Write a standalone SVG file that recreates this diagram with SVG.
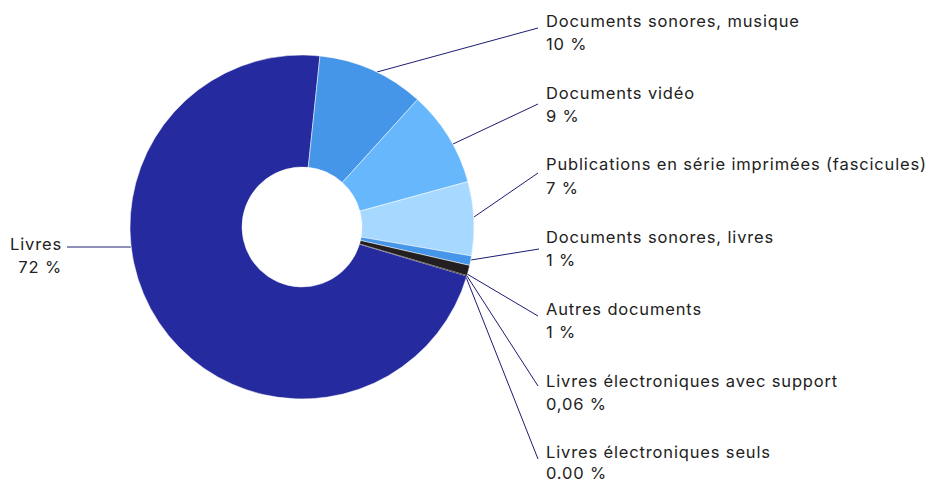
<svg xmlns="http://www.w3.org/2000/svg" width="926" height="483" viewBox="0 0 926 483">
<style>
.lbl{font-family:Inter,"Liberation Sans",sans-serif;font-size:16.5px;letter-spacing:0.85px;fill:#222222}
.end{text-anchor:end}
.sl{stroke:#ffffff;stroke-width:0.5}
.ld{stroke:#1c1c72;stroke-width:1;fill:none}
</style>
<rect width="926" height="483" fill="#ffffff"/>
<g id="connectors">
<line class="ld" x1="377" y1="72" x2="538" y2="28"/>
<line class="ld" x1="453" y1="144" x2="538" y2="104"/>
<line class="ld" x1="474" y1="217" x2="538" y2="173"/>
<line class="ld" x1="471" y1="260" x2="539" y2="249"/>
<line class="ld" x1="467" y1="274" x2="538" y2="316"/>
<line class="ld" x1="467" y1="276" x2="538" y2="386"/>
<line class="ld" x1="466" y1="277" x2="538" y2="459"/>
<line class="ld" x1="67" y1="247" x2="131" y2="247"/>
</g>
<g id="livres">
<path class="sl" fill="#252a9e" d="M466.83,276.14 A172,172 0 1 1 319.98,55.94 L308.27,167.33 A60,60 0 1 0 359.50,244.14 Z"/>
<text class="lbl end" x="62" y="250">Livres</text>
<text class="lbl end" x="62" y="273">72 %</text>
</g>
<g id="sonores-musique">
<path class="sl" fill="#4595e8" d="M319.98,55.94 A172,172 0 0 1 417.52,99.57 L342.30,182.55 A60,60 0 0 0 308.27,167.33 Z"/>
<text class="lbl" x="546" y="27">Documents sonores, musique</text>
<text class="lbl" x="546" y="50">10 %</text>
</g>
<g id="video">
<path class="sl" fill="#66b7fc" d="M417.52,99.57 A172,172 0 0 1 467.90,181.61 L359.87,211.17 A60,60 0 0 0 342.30,182.55 Z"/>
<text class="lbl" x="546" y="99">Documents vidéo</text>
<text class="lbl" x="546" y="122">9 %</text>
</g>
<g id="publications">
<path class="sl" fill="#a7d8ff" d="M467.90,181.61 A172,172 0 0 1 471.54,255.98 L361.14,237.11 A60,60 0 0 0 359.87,211.17 Z"/>
<text class="lbl" x="546" y="170">Publications en série imprimées (fascicules)</text>
<text class="lbl" x="546" y="194">7 %</text>
</g>
<g id="sonores-livres">
<path class="sl" fill="#4595e8" d="M471.54,255.98 A172,172 0 0 1 469.66,265.40 L360.49,240.40 A60,60 0 0 0 361.14,237.11 Z"/>
<text class="lbl" x="546" y="243">Documents sonores, livres</text>
<text class="lbl" x="546" y="266">1 %</text>
</g>
<g id="autres">
<path class="sl" fill="#231f20" d="M469.66,265.40 A172,172 0 0 1 467.00,275.56 L359.56,243.94 A60,60 0 0 0 360.49,240.40 Z"/>
<text class="lbl" x="546" y="315">Autres documents</text>
<text class="lbl" x="546" y="338">1 %</text>
</g>
<g id="electroniques-support">
<path fill="#231f20" d="M467.00,275.56 A172,172 0 0 1 466.83,276.14 L359.50,244.14 A60,60 0 0 0 359.56,243.94 Z"/>
<text class="lbl" x="546" y="387">Livres électroniques avec support</text>
<text class="lbl" x="546" y="410">0,06 %</text>
</g>
<g id="electroniques-seuls">
<text class="lbl" x="546" y="458">Livres électroniques seuls</text>
<text class="lbl" x="546" y="479">0.00 %</text>
</g>
</svg>
